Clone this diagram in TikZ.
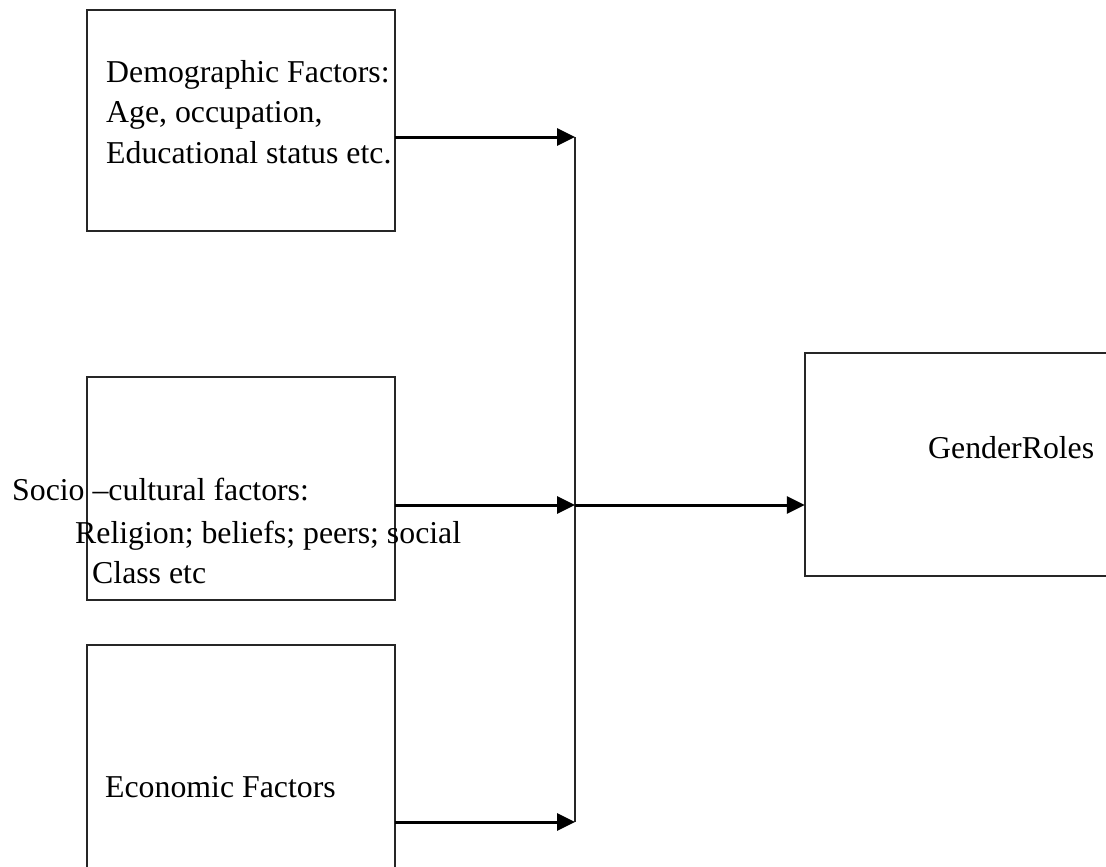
\documentclass[tikz,border=0pt]{standalone}
\usepackage{fontspec}
\setmainfont{Liberation Serif}
\usetikzlibrary{arrows.meta}
\begin{document}
\begin{tikzpicture}[x=1pt,y=-1pt,
  box/.style={draw=black!85, line width=1.8pt, inner sep=0pt},
  lbl/.style={anchor=base west, inner sep=0pt, font=\fontsize{31.8}{40}\selectfont, align=left},
  arr/.style={line width=3pt, -{Triangle[length=18pt,width=17pt]}},
  bus/.style={line width=2.4pt, draw=black!85}]
\useasboundingbox (0,0) rectangle (1106,867);
\clip (0,0) rectangle (1106,867);
% boxes
\draw[box] (87,10) rectangle (395,231);
\node (demo) at (241,120.5) [minimum width=308pt, minimum height=221pt] {};
\draw[box] (87,377) rectangle (395,600);
\node (socio) at (241,488.5) [minimum width=308pt, minimum height=223pt] {};
\draw[box] (87,645) rectangle (395,890);
\node (econ) at (241,767.5) [minimum width=308pt, minimum height=245pt] {};
\draw[box] (805,353) rectangle (1120,576);
\node (gender) at (962.5,464.5) [minimum width=315pt, minimum height=223pt] {};
% texts
\node[lbl] (tdemo1) at (106,82) {Demographic Factors:};
\node[lbl] (tdemo2) at (106,122) {Age, occupation,};
\node[lbl] (tdemo3) at (106,163) {Educational status etc.};
\node[lbl] (tsoc1) at (12,500) {Socio –cultural factors:};
\node[lbl] (tsoc2) at (75,543) {Religion; beliefs; peers; social};
\node[lbl] (tsoc3) at (92,583) {Class etc};
\node[lbl] (tecon) at (105,797) {Economic Factors};
\node[lbl] (tgen) at (928,458) {GenderRoles};
% junctions
\coordinate (j1) at (575,137);
\coordinate (j2) at (575,505);
\coordinate (j3) at (575,822);
\draw[bus] (j1) -- (j3);
\draw[arr] (demo.east |- j1) -- (j1);
\draw[arr] (socio.east |- j2) -- (j2);
\draw[arr] (econ.east |- j3) -- (j3);
\draw[arr] (j2) -- (gender.west |- j2);
\end{tikzpicture}
\end{document}
